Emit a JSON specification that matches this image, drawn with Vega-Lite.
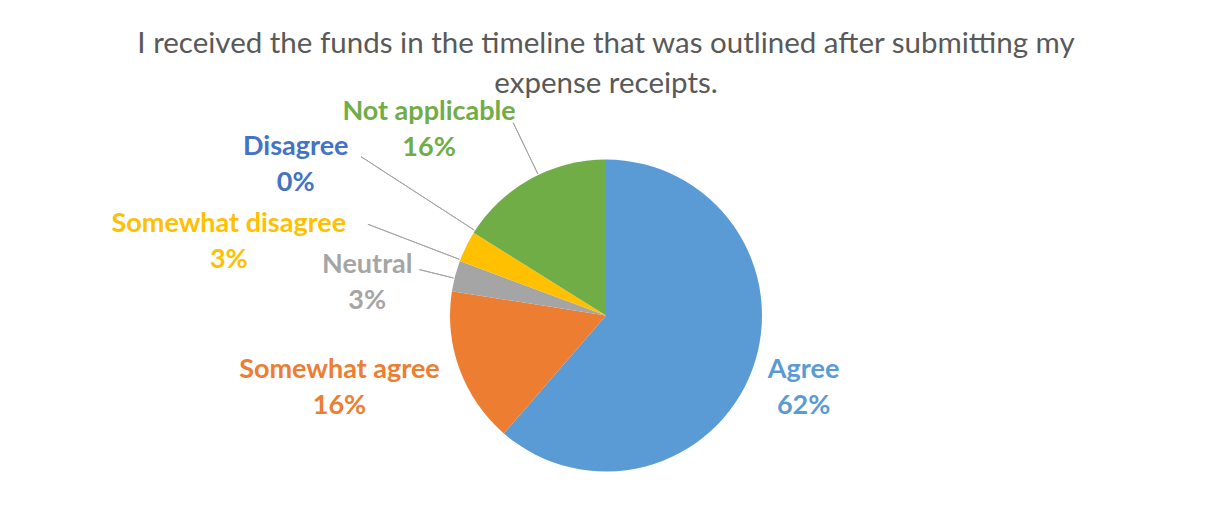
{
  "$schema": "https://vega.github.io/schema/vega-lite/v6.json",
  "width": 1212,
  "height": 423,
  "autosize": {"type": "pad"},
  "padding": {"top": 29, "left": 0, "right": 0, "bottom": 0},
  "background": "#ffffff",
  "config": {"view": {"stroke": null}},
  "title": {
    "text": "I received the funds in the timeline that was outlined after submitting my",
    "subtitle": "expense receipts.",
    "font": "Lato",
    "fontSize": 29.5,
    "fontWeight": "normal",
    "color": "#595959",
    "subtitleFont": "Lato",
    "subtitleFontSize": 29.5,
    "subtitleFontWeight": "normal",
    "subtitleColor": "#595959",
    "subtitlePadding": 10,
    "anchor": "middle",
    "offset": -1.5
  },
  "datasets": {
    "survey": [
      {"cat": "Agree", "value": 61.3, "idx": 1, "label": "Agree\n62%"},
      {"cat": "Somewhat agree", "value": 16.1, "idx": 2, "label": "Somewhat agree\n16%"},
      {"cat": "Neutral", "value": 3.2, "idx": 3, "label": "Neutral\n3%"},
      {"cat": "Somewhat disagree", "value": 3.2, "idx": 4, "label": "Somewhat disagree\n3%"},
      {"cat": "Disagree", "value": 0, "idx": 5, "label": "Disagree\n0%"},
      {"cat": "Not applicable", "value": 16.1, "idx": 6, "label": "Not applicable\n16%"}
    ]
  },
  "data": {"name": "survey"},
  "layer": [
    {
      "mark": {"type": "arc", "outerRadius": 156},
      "encoding": {
        "theta": {"field": "value", "type": "quantitative", "stack": true},
        "order": {"field": "idx", "type": "quantitative"},
        "color": {
          "field": "cat",
          "type": "nominal",
          "scale": {
            "domain": ["Agree", "Somewhat agree", "Neutral", "Somewhat disagree", "Disagree", "Not applicable"],
            "range": ["#5B9BD5", "#ED7D31", "#A5A5A5", "#FFC000", "#4472C4", "#70AD47"]
          },
          "legend": null
        }
      }
    },
    {
      "transform": [
        {"stack": "value", "groupby": [], "sort": [{"field": "idx", "order": "ascending"}], "as": ["v0", "v1"]},
        {"filter": "datum.cat === 'Not applicable'"}
      ],
      "mark": {"type": "arc", "innerRadius": 157, "outerRadius": 214, "thetaOffset": 0.564, "theta2Offset": 0.564, "filled": false, "stroke": "#A6A6A6", "strokeWidth": 1},
      "encoding": {"theta": {"field": "v0", "type": "quantitative"}, "theta2": {"field": "v0"}}
    },
    {
      "transform": [
        {"stack": "value", "groupby": [], "sort": [{"field": "idx", "order": "ascending"}], "as": ["v0", "v1"]},
        {"filter": "datum.cat === 'Disagree'"}
      ],
      "mark": {"type": "arc", "innerRadius": 157, "outerRadius": 292, "thetaOffset": 0.017, "theta2Offset": 0.017, "filled": false, "stroke": "#A6A6A6", "strokeWidth": 1},
      "encoding": {"theta": {"field": "v0", "type": "quantitative"}, "theta2": {"field": "v0"}}
    },
    {
      "transform": [
        {"stack": "value", "groupby": [], "sort": [{"field": "idx", "order": "ascending"}], "as": ["v0", "v1"]},
        {"filter": "datum.cat === 'Somewhat disagree'"}
      ],
      "mark": {"type": "arc", "innerRadius": 157, "outerRadius": 255, "thetaOffset": 0.009, "theta2Offset": 0.009, "filled": false, "stroke": "#A6A6A6", "strokeWidth": 1},
      "encoding": {"theta": {"field": "v0", "type": "quantitative"}, "theta2": {"field": "v0"}}
    },
    {
      "transform": [
        {"stack": "value", "groupby": [], "sort": [{"field": "idx", "order": "ascending"}], "as": ["v0", "v1"]},
        {"filter": "datum.cat === 'Neutral'"}
      ],
      "mark": {"type": "arc", "innerRadius": 157, "outerRadius": 192, "thetaOffset": 0.0855, "theta2Offset": 0.0855, "filled": false, "stroke": "#A6A6A6", "strokeWidth": 1},
      "encoding": {"theta": {"field": "v0", "type": "quantitative"}, "theta2": {"field": "v0"}}
    },
    {
      "transform": [
        {"stack": "value", "groupby": [], "sort": [{"field": "idx", "order": "ascending"}], "as": ["v0", "v1"]},
        {"filter": "datum.cat === 'Agree'"}
      ],
      "mark": {"type": "text", "radius": 205, "thetaOffset": 1.84, "font": "Lato", "fontSize": 27, "fontWeight": "bold", "lineBreak": "\n", "lineHeight": 36, "align": "center", "baseline": "middle", "color": "#5B9BD5"},
      "encoding": {"theta": {"field": "v0", "type": "quantitative"}, "text": {"field": "label"}}
    },
    {
      "transform": [
        {"stack": "value", "groupby": [], "sort": [{"field": "idx", "order": "ascending"}], "as": ["v0", "v1"]},
        {"filter": "datum.cat === 'Somewhat agree'"}
      ],
      "mark": {"type": "text", "radius": 272, "thetaOffset": 0.656, "font": "Lato", "fontSize": 27, "fontWeight": "bold", "lineBreak": "\n", "lineHeight": 36, "align": "center", "baseline": "middle", "color": "#ED7D31"},
      "encoding": {"theta": {"field": "v0", "type": "quantitative"}, "text": {"field": "label"}}
    },
    {
      "transform": [
        {"stack": "value", "groupby": [], "sort": [{"field": "idx", "order": "ascending"}], "as": ["v0", "v1"]},
        {"filter": "datum.cat === 'Neutral'"}
      ],
      "mark": {"type": "text", "radius": 244, "thetaOffset": 0.052, "font": "Lato", "fontSize": 27, "fontWeight": "bold", "lineBreak": "\n", "lineHeight": 36, "align": "center", "baseline": "middle", "color": "#A5A5A5"},
      "encoding": {"theta": {"field": "v0", "type": "quantitative"}, "text": {"field": "label"}}
    },
    {
      "transform": [
        {"stack": "value", "groupby": [], "sort": [{"field": "idx", "order": "ascending"}], "as": ["v0", "v1"]},
        {"filter": "datum.cat === 'Somewhat disagree'"}
      ],
      "mark": {"type": "text", "radius": 388, "thetaOffset": -0.12, "font": "Lato", "fontSize": 27, "fontWeight": "bold", "lineBreak": "\n", "lineHeight": 36, "align": "center", "baseline": "middle", "color": "#FFC000"},
      "encoding": {"theta": {"field": "v0", "type": "quantitative"}, "text": {"field": "label"}}
    },
    {
      "transform": [
        {"stack": "value", "groupby": [], "sort": [{"field": "idx", "order": "ascending"}], "as": ["v0", "v1"]},
        {"filter": "datum.cat === 'Disagree'"}
      ],
      "mark": {"type": "text", "radius": 353, "thetaOffset": -0.061, "font": "Lato", "fontSize": 27, "fontWeight": "bold", "lineBreak": "\n", "lineHeight": 36, "align": "center", "baseline": "middle", "color": "#4472C4"},
      "encoding": {"theta": {"field": "v0", "type": "quantitative"}, "text": {"field": "label"}}
    },
    {
      "transform": [
        {"stack": "value", "groupby": [], "sort": [{"field": "idx", "order": "ascending"}], "as": ["v0", "v1"]},
        {"filter": "datum.cat === 'Not applicable'"}
      ],
      "mark": {"type": "text", "radius": 270, "thetaOffset": 0.298, "font": "Lato", "fontSize": 27, "fontWeight": "bold", "lineBreak": "\n", "lineHeight": 36, "align": "center", "baseline": "middle", "color": "#70AD47"},
      "encoding": {"theta": {"field": "v0", "type": "quantitative"}, "text": {"field": "label"}}
    }
  ]
}
